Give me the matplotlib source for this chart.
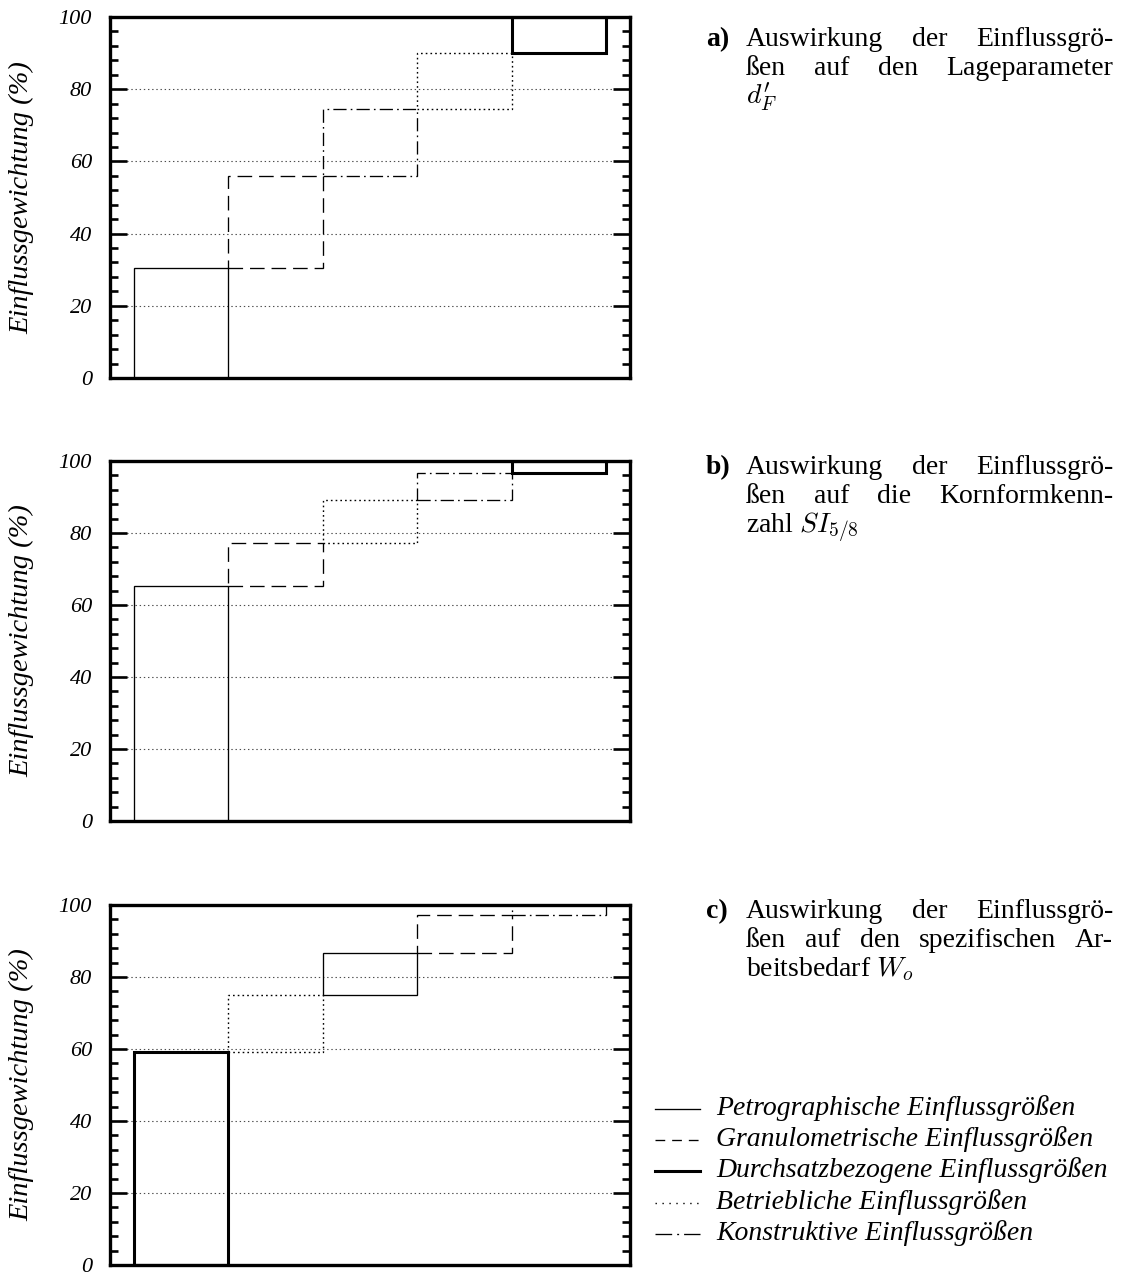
import matplotlib
matplotlib.use("Agg")
import matplotlib.pyplot as plt
from matplotlib.lines import Line2D
import numpy as np

plt.rcParams["font.family"] = ["Liberation Serif", "DejaVu Serif"]
plt.rcParams["mathtext.fontset"] = "cm"
plt.rcParams["lines.scale_dashes"] = False

# ---- data -------------------------------------------------------------
group_keys = ["petro", "granulo", "durchsatz", "betrieb", "konstr"]
group_labels = [
    "Petrographische Einflussgrößen",
    "Granulometrische Einflussgrößen",
    "Durchsatzbezogene Einflussgrößen",
    "Betriebliche Einflussgrößen",
    "Konstruktive Einflussgrößen",
]

# order of the influence groups and their weights (%) per target quantity
order_a = ["petro", "granulo", "konstr", "betrieb", "durchsatz"]
weights_a = [30.5, 25.5, 18.5, 15.5, 10.0]

order_b = ["petro", "granulo", "betrieb", "konstr", "durchsatz"]
weights_b = [65.3, 12.0, 12.0, 7.4, 3.3]

order_c = ["durchsatz", "betrieb", "petro", "granulo", "konstr"]
weights_c = [59.2, 15.7, 11.8, 10.4, 2.9]

y_ticks = [0, 20, 40, 60, 80, 100]
y_label = "Einflussgewichtung (%)"

captions = [
    ("a)", [["Auswirkung", "der", "Einflussgrö-"],
            ["ßen", "auf", "den", "Lageparameter"]], r"$d_F^{\prime}$"),
    ("b)", [["Auswirkung", "der", "Einflussgrö-"],
            ["ßen", "auf", "die", "Kornformkenn-"]], r"zahl $SI_{5/8}$"),
    ("c)", [["Auswirkung", "der", "Einflussgrö-"],
            ["ßen", "auf", "den", "spezifischen", "Ar-"]], r"beitsbedarf $W_o$"),
]

# ---- styles -----------------------------------------------------------
box_style = {
    "petro": dict(linestyle="-", linewidth=0.95),
    "granulo": dict(linestyle=(0, (10.5, 5.0)), linewidth=0.95),
    "durchsatz": dict(linestyle="-", linewidth=2.2),
    "betrieb": dict(linestyle=(0, (1.2, 2.2)), linewidth=1.0),
    "konstr": dict(linestyle=(0, (9.5, 3.0, 1.2, 3.0)), linewidth=0.95),
}
legend_style = {
    "petro": dict(linestyle="-", linewidth=0.95),
    "granulo": dict(linestyle=(0, (7.0, 5.0)), linewidth=0.95),
    "durchsatz": dict(linestyle="-", linewidth=2.2),
    "betrieb": dict(linestyle=(0, (1.0, 4.0)), linewidth=1.0),
    "konstr": dict(linestyle=(0, (12.0, 3.6, 1.4, 3.6)), linewidth=0.95),
}

W, H = 1125, 1275
fig = plt.figure(figsize=(W / 100, H / 100), dpi=100)


def fx(px):
    return px / W


def fy(py):
    return 1 - py / H


def waterfall(ax, order, weights):
    bottoms = np.concatenate([[0.0], np.cumsum(weights)[:-1]])
    for i, (key, w, b) in enumerate(zip(order, weights, bottoms)):
        ax.bar(i, w, bottom=b, width=1.0, align="edge", fill=False,
               edgecolor="black", zorder=3, **box_style[key])
    ax.set_xlim(-0.25, 5.25)
    ax.set_ylim(0, 100)
    ax.set_xticks([])
    ax.set_yticks(y_ticks, labels=[str(v) for v in y_ticks],
                  fontstyle="italic", fontsize=16)
    ax.set_yticks(np.arange(0, 101, 4), minor=True)
    ax.tick_params(axis="y", which="both", direction="in", left=True,
                   right=True, width=1.9, pad=13, zorder=4)
    ax.tick_params(axis="y", which="major", length=12.5)
    ax.tick_params(axis="y", which="minor", length=6)
    ax.yaxis.grid(True, which="major", linestyle=(0, (1.0, 2.0)),
                  color="0.3", linewidth=0.8, zorder=1)
    ax.set_axisbelow(True)
    for sp in ax.spines.values():
        sp.set_linewidth(2.4)
        sp.set_zorder(5)
    ax.set_ylabel(y_label, fontstyle="italic", fontsize=20.5)
    ax.yaxis.set_label_coords(-0.145, 0.5)


panels = [
    (17, 378, order_a, weights_a),
    (461, 821, order_b, weights_b),
    (905, 1265, order_c, weights_c),
]
axes = []
for top, bot, order, weights in panels:
    ax = fig.add_axes([fx(110), fy(bot), fx(630) - fx(110), (bot - top) / H])
    waterfall(ax, order, weights)
    axes.append(ax)

# ---- captions (justified block text) ------------------------------------
renderer = fig.canvas.get_renderer()
cap_fs = 20
text_x0, text_x1 = 746, 1113
baselines = [(46, 75, 104), (474, 503, 532), (918, 947, 976)]

for (tag, lines, last), bl in zip(captions, baselines):
    fig.text(fx(706), fy(bl[0]), tag, fontsize=cap_fs, fontweight="bold",
             va="baseline", ha="left")
    for words, yb in zip(lines, bl[:2]):
        items = [fig.text(0, fy(yb), w, fontsize=cap_fs, va="baseline",
                          ha="left") for w in words]
        widths = [t.get_window_extent(renderer).width for t in items]
        gap = (text_x1 - text_x0 - sum(widths)) / (len(items) - 1)
        x = text_x0
        for t, wdt in zip(items, widths):
            t.set_x(fx(x))
            x += wdt + gap
    fig.text(fx(text_x0), fy(bl[2]), last, fontsize=cap_fs, va="baseline",
             ha="left")

# ---- legend -------------------------------------------------------------
leg_rows = [1109, 1140, 1171, 1203, 1234]
for key, label, yc in zip(group_keys, group_labels, leg_rows):
    fig.add_artist(Line2D([fx(655), fx(700)], [fy(yc), fy(yc)],
                          transform=fig.transFigure, color="black",
                          **legend_style[key]))
    fig.text(fx(716), fy(yc + 6), label, fontsize=20, fontstyle="italic",
             va="baseline", ha="left")

fig.savefig("out.png", dpi=100)
